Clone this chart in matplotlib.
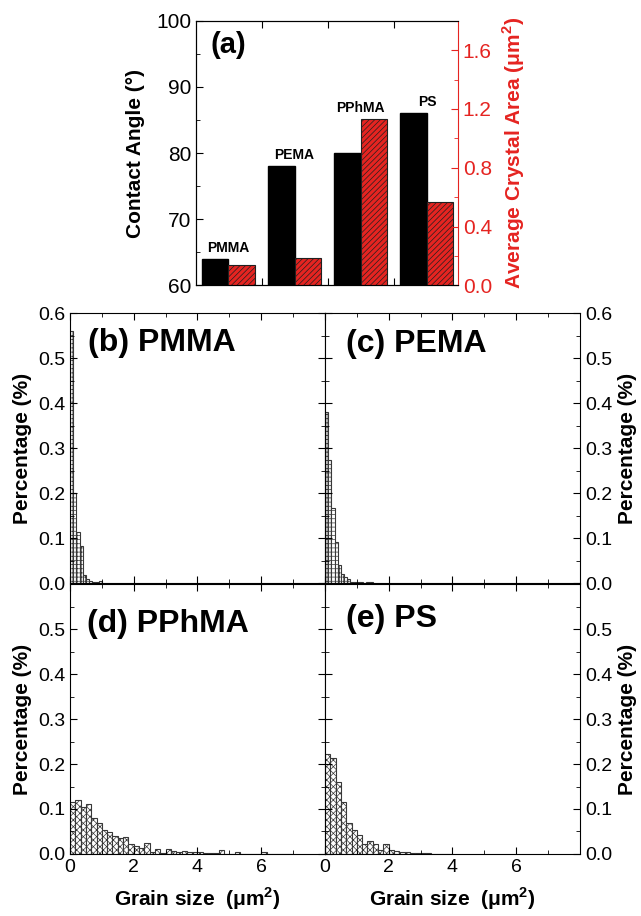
import numpy as np
from matplotlib import pyplot as plt
from matplotlib.ticker import MultipleLocator, FixedLocator

plt.rcParams['font.family'] = ['Liberation Sans', 'DejaVu Sans']
plt.rcParams['mathtext.fontset'] = 'custom'
plt.rcParams['mathtext.rm'] = 'Liberation Sans'
plt.rcParams['mathtext.bf'] = 'Liberation Sans:bold'
plt.rcParams['hatch.linewidth'] = 0.5

# (a) contact angle and average crystal area
polymers = ['PMMA', 'PEMA', 'PPhMA', 'PS']
contact_angle = [64, 78, 80, 86]
crystal_area = [0.14, 0.185, 1.13, 0.57]

# grain size histograms (bin width 0.1 for PMMA/PEMA, 1/6 for PPhMA/PS)
pmma = [0.56, 0.20, 0.115, 0.082, 0.019, 0.009, 0.006, 0.003, 0.004, 0.006]
pema = [0.38, 0.273, 0.167, 0.092, 0.040, 0.021, 0.013, 0.010, 0.004, 0.002,
        0.002, 0.002, 0.001, 0.002, 0.002]
pphma = [0.116, 0.12, 0.105, 0.11, 0.081, 0.068, 0.053, 0.048, 0.041, 0.036, 0.038, 0.022,
         0.018, 0.014, 0.024, 0.005, 0.012, 0.002,
         0.011, 0.007, 0.004, 0.007, 0.004, 0.004,
         0.004, 0.003, 0.002, 0.002, 0.009, 0.001,
         0.0, 0.004, 0.0, 0.0, 0.0, 0.0,
         0.005, 0.0, 0.0, 0.001, 0.001, 0.0]
ps = [0.222, 0.214, 0.159, 0.115, 0.068, 0.053, 0.042, 0.022, 0.029, 0.022, 0.009, 0.022,
      0.009, 0.007, 0.004, 0.004, 0.002, 0.002,
      0.003, 0.002, 0.001, 0.0, 0.001, 0.0]

fig = plt.figure(figsize=(6.41, 9.16), dpi=100)

# ---- panel (a)
ax = fig.add_axes([0.3058, 0.6885, 0.4087, 0.2889])
ax2 = ax.twinx()
x = np.arange(1, len(polymers) + 1)
w = 0.4
ax.bar(x - w, contact_angle, width=w, align='edge', color='black', edgecolor='black')
ax2.bar(x, crystal_area, width=w, align='edge', color='#e52421', edgecolor='#202020',
        hatch='//////', linewidth=0.8)
ax.set_xlim(0.51, 4.47)
ax.set_ylim(60, 100)
ax2.set_ylim(0, 1.8)
ax.yaxis.set_major_locator(MultipleLocator(10))
ax.yaxis.set_minor_locator(MultipleLocator(5))
ax2.yaxis.set_major_locator(MultipleLocator(0.4))
ax2.yaxis.set_minor_locator(MultipleLocator(0.2))
ax2.yaxis.set_major_formatter(plt.FormatStrFormatter('%.1f'))
ax.xaxis.set_major_locator(FixedLocator([1.5, 2.5, 3.5]))
ax.tick_params(axis='x', which='both', direction='in', top=True, labelbottom=False, length=5)
ax.tick_params(axis='y', which='major', direction='in', labelsize=15, length=5, right=False)
ax.tick_params(axis='y', which='minor', direction='in', length=3, right=False)
ax2.tick_params(axis='y', which='major', direction='in', labelsize=15, length=5,
                colors='#e52421')
ax2.tick_params(axis='y', which='minor', direction='in', length=3, colors='#e52421')
ax2.spines['right'].set_color('#e52421')
ax.spines['right'].set_visible(False)
ax.set_ylabel('Contact Angle (°)', fontsize=15, fontweight='bold', labelpad=8)
ax2.set_ylabel(r'Average Crystal Area (μm$^\mathbf{2}$)', fontsize=15, fontweight='bold',
               color='#e52421', labelpad=6)
ax.text(0.056, 0.908, '(a)', transform=ax.transAxes, fontsize=21, fontweight='bold',
        va='center', ha='left')
for xi, ca, area, name in zip(x, contact_angle, crystal_area, polymers):
    top = max(ca, 60 + area * 40 / 1.8)
    ax.text(xi, top + 1.7, name, ha='center', va='center', fontsize=10, fontweight='bold')

# ---- panels (b)-(e)
left, mid = 0.1092, 0.507
pw, ph = 0.3978, 0.2947
row_top, row_bot = 0.3632, 0.0677
panels = [
    ('(b) PMMA', pmma, 0.1, '++++', left, row_top, (0.07, 0.892)),
    ('(c) PEMA', pema, 0.1, '++++', mid, row_top, (0.082, 0.885)),
    ('(d) PPhMA', pphma, 1 / 6, 'xxxxx', left, row_bot, (0.068, 0.852)),
    ('(e) PS', ps, 1 / 6, 'xxxxx', mid, row_bot, (0.082, 0.87)),
]
for label, vals, bw, hatch, px, py, tpos in panels:
    a = fig.add_axes([px, py, pw, ph])
    edges = np.arange(len(vals)) * bw
    a.bar(edges, vals, width=bw, align='edge', facecolor='white', edgecolor='#383838',
          hatch=hatch, linewidth=0.8)
    a.set_xlim(0, 8)
    a.set_ylim(0, 0.6)
    a.xaxis.set_major_locator(FixedLocator([0, 2, 4, 6]))
    a.xaxis.set_minor_locator(FixedLocator([1, 3, 5, 7]))
    if py == row_top:
        a.yaxis.set_major_locator(FixedLocator([0, 0.1, 0.2, 0.3, 0.4, 0.5, 0.6]))
    else:
        a.yaxis.set_major_locator(FixedLocator([0, 0.1, 0.2, 0.3, 0.4, 0.5]))
    a.yaxis.set_minor_locator(MultipleLocator(0.05))
    a.yaxis.set_major_formatter(plt.FormatStrFormatter('%.1f'))
    a.tick_params(which='both', direction='in', top=True, right=True, labelsize=14)
    a.tick_params(which='major', length=5)
    a.tick_params(which='minor', length=3)
    if py == row_top:
        a.tick_params(labelbottom=False)
    else:
        a.set_xlabel(r'Grain size  (μm$^\mathbf{2}$)', fontsize=15, fontweight='bold',
                     labelpad=7)
    if px == mid:
        a.tick_params(labelleft=False, labelright=True)
        a.yaxis.set_label_position('right')
    a.set_ylabel('Percentage (%)', fontsize=15, fontweight='bold', labelpad=4)
    a.text(tpos[0], tpos[1], label, transform=a.transAxes, fontsize=23,
           fontweight='bold', va='center', ha='left')

fig.savefig('out.png', dpi=100)
